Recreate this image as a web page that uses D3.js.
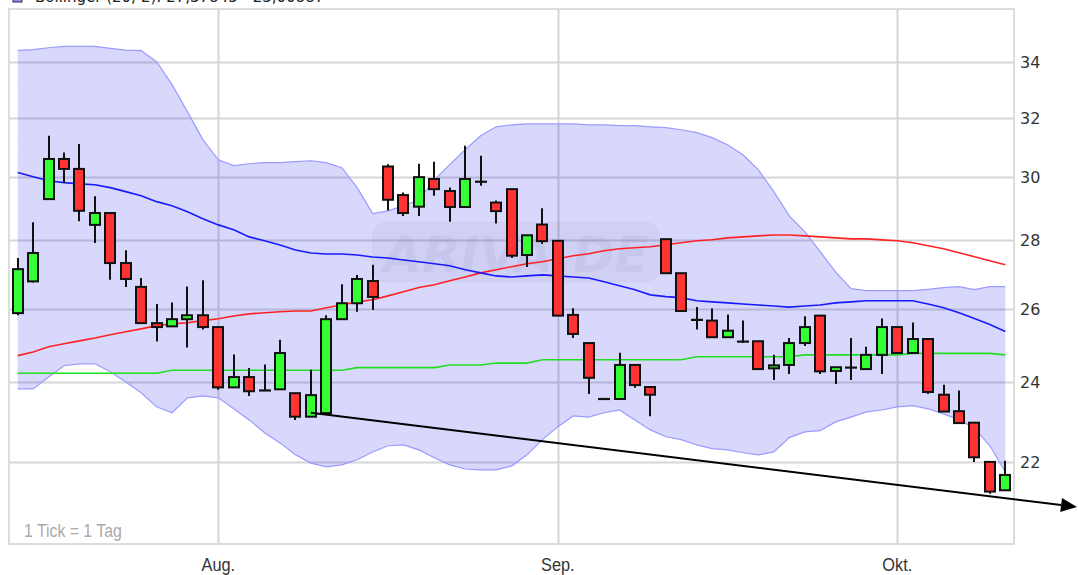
<!DOCTYPE html>
<html>
<head>
<meta charset="utf-8">
<script src="https://cdnjs.cloudflare.com/ajax/libs/d3/7.8.5/d3.min.js"></script>
<style>
  html, body { margin: 0; padding: 0; background: #fff; }
  svg { display: block; }
</style>
</head>
<body>
<svg id="chart" width="1078" height="575"></svg>
<script>
// ---------------- data ----------------
const dates = [
  "2021-07-14","2021-07-15","2021-07-16","2021-07-19","2021-07-20","2021-07-21","2021-07-22","2021-07-23","2021-07-26","2021-07-27","2021-07-28","2021-07-29","2021-07-30",
  "2021-08-02","2021-08-03","2021-08-04","2021-08-05","2021-08-06","2021-08-09","2021-08-10","2021-08-11","2021-08-12","2021-08-13","2021-08-16","2021-08-17","2021-08-18","2021-08-19","2021-08-20","2021-08-23","2021-08-24","2021-08-25","2021-08-26","2021-08-27","2021-08-30","2021-08-31",
  "2021-09-01","2021-09-02","2021-09-03","2021-09-06","2021-09-07","2021-09-08","2021-09-09","2021-09-10","2021-09-13","2021-09-14","2021-09-15","2021-09-16","2021-09-17","2021-09-20","2021-09-21","2021-09-22","2021-09-23","2021-09-24","2021-09-27","2021-09-28","2021-09-29","2021-09-30",
  "2021-10-01","2021-10-04","2021-10-05","2021-10-06","2021-10-07","2021-10-08","2021-10-11","2021-10-12"
];
const opens  = [25.87,26.78,29.29,30.60,30.27,28.48,28.85,27.32,26.62,25.59, 25.50,25.70,25.81,25.48,23.86,24.13,23.78,23.81,23.71,23.11, 23.20,25.70,26.15,26.79,30.35,29.42,29.05,29.94,29.55,29.04, 29.85,29.18,29.61,27.56,28.49,27.99,25.82,25.04,23.56,23.56, 24.45,23.87,28.04,27.02,25.68,25.66,25.20,25.08,25.09,24.36, 24.45,25.04,25.80,24.29,24.38,24.34,24.72,25.48,24.77,25.15, 23.67,23.25,22.96,22.00,21.33];
const highs  = [27.47,28.56,31.38,30.82,31.10,29.38,28.85,27.70,26.88,26.13, 26.17,26.63,26.81,25.48,24.73,24.37,24.46,25.13,23.71,24.32, 25.81,26.70,26.97,27.27,30.42,29.50,30.44,30.51,29.66,31.04, 30.71,29.25,29.61,28.16,29.00,27.99,26.01,25.04,23.56,24.78, 24.45,23.87,28.04,27.02,26.04,26.00,25.83,25.66,25.09,24.72, 25.18,25.78,25.80,24.39,25.18,24.94,25.72,25.48,25.61,25.15, 23.93,23.78,22.96,22.00,22.03];
const lows   = [25.81,26.75,29.29,29.81,28.59,27.92,26.83,26.62,25.59,25.08, 25.50,24.92,25.41,23.80,23.86,23.64,23.78,23.81,23.03,23.11, 23.20,25.70,25.91,25.96,28.93,28.76,28.76,29.40,28.58,29.04, 29.72,28.52,27.47,27.20,27.90,25.80,25.18,23.69,23.56,23.56, 23.85,23.12,27.02,25.93,25.41,25.20,25.20,25.04,24.34,24.05, 24.21,24.96,24.21,23.95,24.05,24.34,24.21,24.77,24.77,23.69, 23.24,22.95,22.00,21.25,21.33];
const closes = [27.14,27.62,30.60,30.27,28.92,28.85,27.32,26.85,25.59,25.48, 25.70,25.81,25.48,23.86,24.13,23.76,23.78,24.77,23.11,23.66, 25.70,26.15,26.85,26.33,29.27,28.85,30.00,29.61,29.04,29.94, 29.85,28.91,27.54,28.16,27.98,25.80,25.29,24.11,23.56,24.45, 23.92,23.67,27.02,25.93,25.68,25.20,25.38,25.08,24.34,24.44, 25.04,25.48,24.28,24.39,24.38,24.72,25.48,24.77,25.15,23.74, 23.24,22.95,22.11,21.30,21.69];

// Bollinger (20; 2)
const bbMiddle = [30.15,30.01,29.88,29.82,29.78,29.75,29.66,29.53,29.40,29.21, 29.08,28.89,28.67,28.48,28.33,28.11,27.99,27.86,27.71,27.62, 27.59,27.59,27.56,27.50,27.47,27.41,27.36,27.30,27.24,27.12, 27.03,26.94,26.91,26.94,26.97,26.94,26.91,26.88,26.77,26.65, 26.54,26.39,26.34,26.31,26.22,26.19,26.16,26.13,26.10,26.07, 26.04,26.07,26.10,26.16,26.19,26.22,26.22,26.22,26.22,26.13, 26.02,25.88,25.72,25.55,25.36];
const bbUpper  = [34.44,34.47,34.54,34.59,34.59,34.59,34.52,34.45,34.43,34.02, 33.18,32.21,31.25,30.57,30.38,30.44,30.48,30.48,30.51,30.54, 30.48,30.31,29.66,28.83,28.92,29.08,29.27,29.91,30.41,30.91, 31.38,31.69,31.76,31.79,31.79,31.79,31.79,31.76,31.76,31.73, 31.73,31.69,31.66,31.59,31.49,31.32,31.08,30.74,30.24,29.53, 28.76,28.27,27.66,27.06,26.57,26.51,26.51,26.51,26.51,26.55, 26.60,26.63,26.54,26.63,26.63];
const bbLower  = [23.82,23.82,24.13,24.43,24.48,24.48,24.27,24.00,23.72,23.36, 23.21,23.59,23.64,23.59,23.31,23.03,22.71,22.46,22.17,21.97, 21.88,21.93,22.05,22.24,22.39,22.41,22.29,22.10,21.93,21.83, 21.81,21.81,21.90,22.17,22.54,22.86,23.13,23.10,23.21,23.28, 23.03,22.78,22.61,22.54,22.41,22.32,22.29,22.22,22.17,22.24, 22.59,22.73,22.76,22.98,23.10,23.23,23.28,23.36,23.39,23.31, 23.18,23.03,22.83,22.39,21.76];
// moving averages
const maRed    = [24.70,24.80,24.94,25.02,25.10,25.18,25.27,25.35,25.43,25.52, 25.57,25.60,25.66,25.71,25.79,25.85,25.88,25.91,25.93,25.93, 26.02,26.10,26.19,26.25,26.36,26.48,26.60,26.68,26.80,26.91, 27.03,27.12,27.21,27.30,27.36,27.45,27.54,27.60,27.69,27.75, 27.78,27.81,27.87,27.93,27.99,28.02,28.08,28.11,28.14,28.17, 28.17,28.14,28.11,28.08,28.05,28.05,28.02,27.99,27.93,27.84, 27.75,27.63,27.51,27.39,27.27];
const maGreen  = [24.23,24.23,24.23,24.23,24.23,24.23,24.23,24.23,24.23,24.23, 24.31,24.31,24.31,24.31,24.31,24.31,24.31,24.31,24.31,24.31, 24.31,24.31,24.38,24.38,24.38,24.38,24.38,24.38,24.45,24.45, 24.45,24.50,24.50,24.50,24.59,24.59,24.59,24.59,24.59,24.59, 24.59,24.59,24.59,24.59,24.67,24.67,24.67,24.67,24.67,24.67, 24.67,24.72,24.72,24.72,24.72,24.72,24.72,24.72,24.76,24.76, 24.76,24.76,24.76,24.76,24.72];

// trend line (drawn by user): two anchors, extended to the right with an arrow
const trendDates  = ["2021-08-10", "2021-10-12"];
const trendValues = [23.21, 21.15];

const yTicks = [22, 24, 26, 28, 30, 32, 34];
const monthTickDates  = ["2021-08-02", "2021-09-01", "2021-10-01"];
const monthTickLabels = ["Aug.", "Sep.", "Okt."];
const legendText = "Bollinger (20; 2): 27,37845 - 23,00887";
const tickNote = "1 Tick = 1 Tag";

// ---------------- layout ----------------
const W = 1078, H = 575;
const plot = { left: 10, right: 1013, top: 10, bottom: 543 };

const svg = d3.select("#chart");
const x = d3.scaleBand().domain(dates).range([plot.left, plot.right]).padding(0);
const xc = d => x(d) + x.bandwidth() / 2;
const y = d3.scaleLog().domain([20.14, 35.99]).range([plot.bottom, plot.top]);

const defs = svg.append("defs");
defs.append("clipPath").attr("id", "plotClip")
  .append("rect").attr("x", plot.left).attr("y", plot.top)
  .attr("width", plot.right - plot.left).attr("height", plot.bottom - plot.top);

// grid
const grid = svg.append("g");
grid.selectAll("line.h").data(yTicks).enter().append("line")
  .attr("x1", plot.left).attr("x2", plot.right)
  .attr("y1", d => Math.round(y(d)) + 0.5).attr("y2", d => Math.round(y(d)) + 0.5)
  .attr("stroke", "#d6d6d6").attr("stroke-width", 2);
grid.selectAll("line.v").data(monthTickDates).enter().append("line")
  .attr("y1", plot.top).attr("y2", plot.bottom)
  .attr("x1", d => Math.round(xc(d)) + 0.5).attr("x2", d => Math.round(xc(d)) + 0.5)
  .attr("stroke", "#d6d6d6").attr("stroke-width", 2);

const g = svg.append("g").attr("clip-path", "url(#plotClip)");

// Bollinger band
const idx = d3.range(dates.length);
const area = d3.area().x(i => xc(dates[i])).y0(i => y(bbLower[i])).y1(i => y(bbUpper[i]));
g.append("path").datum(idx).attr("d", area)
  .attr("fill", "rgb(40,40,240)").attr("fill-opacity", 0.18);
const lineOf = arr => d3.line().x(i => xc(dates[i])).y(i => y(arr[i]));
g.append("path").datum(idx).attr("d", lineOf(bbUpper)).attr("fill", "none").attr("stroke", "#9a9aff").attr("stroke-width", 1.2);
g.append("path").datum(idx).attr("d", lineOf(bbLower)).attr("fill", "none").attr("stroke", "#9a9aff").attr("stroke-width", 1.2);

// watermark
const wm = g.append("g");
wm.append("rect").attr("x", 372).attr("y", 222).attr("width", 288).attr("height", 60).attr("rx", 14)
  .attr("fill", "rgb(60,60,120)").attr("fill-opacity", 0.05);
wm.append("text").attr("x", 516).attr("y", 272).attr("text-anchor", "middle")
  .attr("font-family", "DejaVu Sans, sans-serif").attr("font-style", "italic").attr("font-weight", "bold")
  .attr("font-size", 50).attr("fill", "rgb(60,60,140)").attr("fill-opacity", 0.06).text("ARIVA.DE");

// moving average lines
g.append("path").datum(idx).attr("d", lineOf(maGreen)).attr("fill", "none").attr("stroke", "#22dd22").attr("stroke-width", 1.6);
g.append("path").datum(idx).attr("d", lineOf(maRed)).attr("fill", "none").attr("stroke", "#ff2222").attr("stroke-width", 1.6);
g.append("path").datum(idx).attr("d", lineOf(bbMiddle)).attr("fill", "none").attr("stroke", "#1a1aff").attr("stroke-width", 1.6);

// candles
const bodyW = 10;
const candles = g.append("g");
idx.forEach(i => {
  const cx = Math.round(xc(dates[i]));
  candles.append("line").attr("x1", cx).attr("x2", cx)
    .attr("y1", y(highs[i])).attr("y2", y(lows[i]))
    .attr("stroke", "#111").attr("stroke-width", 2);
  const yo = y(opens[i]), yc = y(closes[i]);
  const top = Math.min(yo, yc), h = Math.abs(yo - yc);
  if (h < 1.2) {
    candles.append("line").attr("x1", cx - bodyW / 2 - 1).attr("x2", cx + bodyW / 2 + 1)
      .attr("y1", (yo + yc) / 2).attr("y2", (yo + yc) / 2)
      .attr("stroke", "#111").attr("stroke-width", 2.2);
  } else {
    candles.append("rect").attr("x", cx - bodyW / 2).attr("y", top)
      .attr("width", bodyW).attr("height", h)
      .attr("fill", closes[i] > opens[i] ? "#33ff33" : "#ff3333")
      .attr("stroke", "#111").attr("stroke-width", 2);
  }
});

// frame
svg.append("rect").attr("x", plot.left - 1).attr("y", plot.top - 1)
  .attr("width", plot.right - plot.left + 2).attr("height", plot.bottom - plot.top + 2)
  .attr("fill", "none").attr("stroke", "#dcdcdc").attr("stroke-width", 2);

// y labels
svg.append("g").selectAll("text").data(yTicks).enter().append("text")
  .attr("x", 1020).attr("y", d => y(d) + 6)
  .attr("font-family", "DejaVu Sans, sans-serif").attr("font-size", 16).attr("fill", "#333")
  .text(d => d);

// x labels
svg.append("g").selectAll("text").data(monthTickDates).enter().append("text")
  .attr("x", d => xc(d)).attr("y", 571).attr("text-anchor", "middle")
  .attr("font-family", "Liberation Sans, Arial, sans-serif").attr("font-size", 19).attr("fill", "#333")
  .attr("transform", d => `translate(${xc(d)},0) scale(0.86,1) translate(${-xc(d)},0)`)
  .text((d, i) => monthTickLabels[i]);

// tick note
svg.append("text").attr("x", 24).attr("y", 537)
  .attr("font-family", "Liberation Sans, Arial, sans-serif").attr("font-size", 18).attr("fill", "#aaa")
  .attr("transform", "translate(24,0) scale(0.88,1) translate(-24,0)")
  .text(tickNote);

// legend (clipped at the top, as in the original)
svg.append("rect").attr("x", 13).attr("y", -8).attr("width", 9).attr("height", 10)
  .attr("fill", "#8888ff").attr("stroke", "#333").attr("stroke-width", 1);
svg.append("text").attr("x", 35).attr("y", 2)
  .attr("font-family", "DejaVu Sans, sans-serif").attr("font-size", 15).attr("fill", "#222")
  .text(legendText);

// trend line with arrow
const x0 = xc(trendDates[0]), y0 = y(trendValues[0]);
const x1 = xc(trendDates[1]), y1 = y(trendValues[1]);
const slope = (y1 - y0) / (x1 - x0);
const xe = W - 1, ye = y0 + slope * (xe - x0);
const ang = Math.atan2(ye - y0, xe - x0);
const aL = 16, aW = 7;
const bx = xe - aL * Math.cos(ang), by = ye - aL * Math.sin(ang);
svg.append("line").attr("x1", x0).attr("y1", y0).attr("x2", bx).attr("y2", by)
  .attr("stroke", "#000").attr("stroke-width", 2);
svg.append("path")
  .attr("d", `M${xe},${ye} L${bx + aW * Math.sin(ang)},${by - aW * Math.cos(ang)} L${bx - aW * Math.sin(ang)},${by + aW * Math.cos(ang)} Z`)
  .attr("fill", "#000");
</script>
</body>
</html>
